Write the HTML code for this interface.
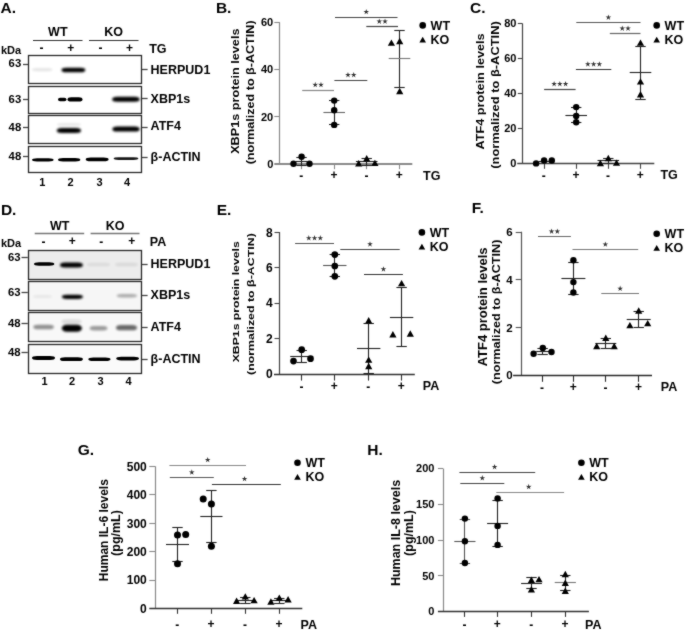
<!DOCTYPE html>
<html><head><meta charset="utf-8"><title>Figure</title>
<style>
html,body{margin:0;padding:0;background:#fff;}
body{width:685px;height:630px;overflow:hidden;}
svg{display:block;font-family:"Liberation Sans", sans-serif;filter:grayscale(1);}
</style></head>
<body>
<svg width="685" height="630" viewBox="0 0 685 630">
<defs><filter id="b1" x="-20%" y="-200%" width="140%" height="500%"><feGaussianBlur stdDeviation="0.1"/></filter><filter id="b2" x="-20%" y="-200%" width="140%" height="500%"><feGaussianBlur stdDeviation="0.2"/></filter><filter id="b3" x="-20%" y="-200%" width="140%" height="500%"><feGaussianBlur stdDeviation="0.3"/></filter><filter id="b4" x="-20%" y="-200%" width="140%" height="500%"><feGaussianBlur stdDeviation="0.4"/></filter><filter id="b5" x="-20%" y="-200%" width="140%" height="500%"><feGaussianBlur stdDeviation="0.5"/></filter><filter id="b6" x="-20%" y="-200%" width="140%" height="500%"><feGaussianBlur stdDeviation="0.6"/></filter><filter id="b7" x="-20%" y="-200%" width="140%" height="500%"><feGaussianBlur stdDeviation="0.7"/></filter><filter id="b8" x="-20%" y="-200%" width="140%" height="500%"><feGaussianBlur stdDeviation="0.8"/></filter><filter id="b9" x="-20%" y="-200%" width="140%" height="500%"><feGaussianBlur stdDeviation="0.9"/></filter><filter id="b10" x="-20%" y="-200%" width="140%" height="500%"><feGaussianBlur stdDeviation="1.0"/></filter><filter id="b11" x="-20%" y="-200%" width="140%" height="500%"><feGaussianBlur stdDeviation="1.1"/></filter><filter id="b12" x="-20%" y="-200%" width="140%" height="500%"><feGaussianBlur stdDeviation="1.2"/></filter><filter id="b13" x="-20%" y="-200%" width="140%" height="500%"><feGaussianBlur stdDeviation="1.3"/></filter><filter id="b14" x="-20%" y="-200%" width="140%" height="500%"><feGaussianBlur stdDeviation="1.4"/></filter><filter id="b15" x="-20%" y="-200%" width="140%" height="500%"><feGaussianBlur stdDeviation="1.5"/></filter><filter id="b16" x="-20%" y="-200%" width="140%" height="500%"><feGaussianBlur stdDeviation="1.6"/></filter><filter id="b17" x="-20%" y="-200%" width="140%" height="500%"><feGaussianBlur stdDeviation="1.7"/></filter><filter id="b18" x="-20%" y="-200%" width="140%" height="500%"><feGaussianBlur stdDeviation="1.8"/></filter><filter id="b19" x="-20%" y="-200%" width="140%" height="500%"><feGaussianBlur stdDeviation="1.9"/></filter><filter id="b20" x="-20%" y="-200%" width="140%" height="500%"><feGaussianBlur stdDeviation="2.0"/></filter><filter id="b21" x="-20%" y="-200%" width="140%" height="500%"><feGaussianBlur stdDeviation="2.1"/></filter><filter id="b22" x="-20%" y="-200%" width="140%" height="500%"><feGaussianBlur stdDeviation="2.2"/></filter><filter id="b23" x="-20%" y="-200%" width="140%" height="500%"><feGaussianBlur stdDeviation="2.3"/></filter><filter id="b24" x="-20%" y="-200%" width="140%" height="500%"><feGaussianBlur stdDeviation="2.4"/></filter><filter id="b25" x="-20%" y="-200%" width="140%" height="500%"><feGaussianBlur stdDeviation="2.5"/></filter><filter id="b26" x="-20%" y="-200%" width="140%" height="500%"><feGaussianBlur stdDeviation="2.6"/></filter><filter id="b27" x="-20%" y="-200%" width="140%" height="500%"><feGaussianBlur stdDeviation="2.7"/></filter><filter id="b28" x="-20%" y="-200%" width="140%" height="500%"><feGaussianBlur stdDeviation="2.8"/></filter><filter id="b29" x="-20%" y="-200%" width="140%" height="500%"><feGaussianBlur stdDeviation="2.9"/></filter><filter id="b30" x="-20%" y="-200%" width="140%" height="500%"><feGaussianBlur stdDeviation="3.0"/></filter><filter id="soft" x="0" y="0" width="685" height="630" filterUnits="userSpaceOnUse" color-interpolation-filters="sRGB"><feConvolveMatrix order="3" kernelMatrix="1 2 1 2 20 2 1 2 1" edgeMode="duplicate"/></filter></defs>
<rect x="0" y="0" width="685" height="630" fill="#fff"/>
<g filter="url(#soft)">
<text x="0.50" y="12.60" font-size="15.5" text-anchor="start" font-weight="bold" fill="#000" >A.</text>
<text x="57.80" y="36.20" font-size="12.5" text-anchor="middle" font-weight="bold" fill="#000" >WT</text>
<text x="113.50" y="36.20" font-size="12.5" text-anchor="middle" font-weight="bold" fill="#000" >KO</text>
<line x1="33.00" y1="40.50" x2="82.50" y2="40.50" stroke="#333" stroke-width="1.2" />
<line x1="89.00" y1="40.50" x2="138.50" y2="40.50" stroke="#333" stroke-width="1.2" />
<text x="1.00" y="53.60" font-size="11" text-anchor="start" font-weight="bold" fill="#000" >kDa</text>
<text x="41.60" y="52.30" font-size="12" text-anchor="middle" font-weight="bold" fill="#000" >-</text>
<text x="70.80" y="52.00" font-size="12" text-anchor="middle" font-weight="bold" fill="#000" >+</text>
<text x="100.60" y="52.30" font-size="12" text-anchor="middle" font-weight="bold" fill="#000" >-</text>
<text x="129.40" y="52.00" font-size="12" text-anchor="middle" font-weight="bold" fill="#000" >+</text>
<text x="149.20" y="53.30" font-size="12.5" text-anchor="start" font-weight="bold" fill="#000" >TG</text>
<rect x="28.50" y="55.50" width="113.00" height="28.00" fill="none" stroke="#2a2a2a" stroke-width="1.3" />
<line x1="23.00" y1="64.50" x2="28.00" y2="64.50" stroke="#444" stroke-width="1.3" />
<text x="21.20" y="66.90" font-size="11.3" text-anchor="end" font-weight="bold" fill="#000" >63</text>
<line x1="142.00" y1="69.50" x2="147.60" y2="69.50" stroke="#444" stroke-width="1.3" />
<text x="150.60" y="73.90" font-size="12.5" text-anchor="start" font-weight="bold" fill="#000" >HERPUD1</text>
<rect x="28.50" y="86.50" width="113.00" height="27.00" fill="none" stroke="#2a2a2a" stroke-width="1.3" />
<line x1="23.00" y1="99.50" x2="28.00" y2="99.50" stroke="#444" stroke-width="1.3" />
<text x="21.20" y="102.50" font-size="11.3" text-anchor="end" font-weight="bold" fill="#000" >63</text>
<line x1="142.00" y1="98.50" x2="147.60" y2="98.50" stroke="#444" stroke-width="1.3" />
<text x="150.60" y="102.70" font-size="12.5" text-anchor="start" font-weight="bold" fill="#000" >XBP1s</text>
<rect x="28.50" y="115.50" width="113.00" height="28.00" fill="none" stroke="#2a2a2a" stroke-width="1.3" />
<line x1="23.00" y1="127.50" x2="28.00" y2="127.50" stroke="#444" stroke-width="1.3" />
<text x="21.20" y="131.30" font-size="11.3" text-anchor="end" font-weight="bold" fill="#000" >48</text>
<line x1="142.00" y1="127.50" x2="147.60" y2="127.50" stroke="#444" stroke-width="1.3" />
<text x="150.60" y="129.90" font-size="12.5" text-anchor="start" font-weight="bold" fill="#000" >ATF4</text>
<rect x="28.50" y="146.50" width="113.00" height="26.00" fill="none" stroke="#2a2a2a" stroke-width="1.3" />
<line x1="23.00" y1="156.50" x2="28.00" y2="156.50" stroke="#444" stroke-width="1.3" />
<text x="21.20" y="160.30" font-size="11.3" text-anchor="end" font-weight="bold" fill="#000" >48</text>
<line x1="142.00" y1="157.50" x2="147.60" y2="157.50" stroke="#444" stroke-width="1.3" />
<text x="150.60" y="160.60" font-size="12.5" text-anchor="start" font-weight="bold" fill="#000" >β-ACTIN</text>
<text x="42.20" y="186.20" font-size="11" text-anchor="middle" font-weight="bold" fill="#000" >1</text>
<text x="70.50" y="186.20" font-size="11" text-anchor="middle" font-weight="bold" fill="#000" >2</text>
<text x="99.60" y="186.20" font-size="11" text-anchor="middle" font-weight="bold" fill="#000" >3</text>
<text x="127.00" y="186.20" font-size="11" text-anchor="middle" font-weight="bold" fill="#000" >4</text>
<rect x="32.00" y="68.00" width="20.50" height="3.20" rx="5.00" ry="1.60" fill="#000" opacity="0.1" filter="url(#b12)"/>
<rect x="61.50" y="67.70" width="23.80" height="4.60" rx="5.00" ry="2.30" fill="#000" opacity="1.0" filter="url(#b8)"/>
<rect x="58.00" y="97.80" width="8.50" height="3.40" rx="2.12" ry="1.70" fill="#000" opacity="1.0" filter="url(#b7)"/>
<rect x="67.50" y="97.25" width="15.00" height="4.30" rx="3.75" ry="2.15" fill="#000" opacity="1.0" filter="url(#b7)"/>
<rect x="112.20" y="96.80" width="27.40" height="5.00" rx="5.00" ry="2.50" fill="#000" opacity="1.0" filter="url(#b8)"/>
<rect x="57.00" y="123.25" width="24.00" height="2.50" rx="5.00" ry="1.25" fill="#000" opacity="0.1" filter="url(#b10)"/>
<rect x="56.80" y="128.10" width="24.20" height="5.00" rx="5.00" ry="2.50" fill="#000" opacity="1.0" filter="url(#b10)"/>
<rect x="112.40" y="126.40" width="27.20" height="5.20" rx="5.00" ry="2.60" fill="#000" opacity="1.0" filter="url(#b9)"/>
<rect x="32.00" y="158.20" width="21.60" height="3.20" rx="5.00" ry="1.60" fill="#000" opacity="1.0" filter="url(#b7)"/>
<rect x="58.00" y="158.10" width="22.30" height="3.40" rx="5.00" ry="1.70" fill="#000" opacity="1.0" filter="url(#b7)"/>
<rect x="85.70" y="157.60" width="22.90" height="3.60" rx="5.00" ry="1.80" fill="#000" opacity="1.0" filter="url(#b7)"/>
<rect x="113.60" y="157.30" width="24.80" height="2.60" rx="5.00" ry="1.30" fill="#000" opacity="0.9" filter="url(#b7)"/>
<text x="0.90" y="214.80" font-size="15.5" text-anchor="start" font-weight="bold" fill="#000" >D.</text>
<text x="59.60" y="229.50" font-size="12.5" text-anchor="middle" font-weight="bold" fill="#000" >WT</text>
<text x="115.20" y="229.50" font-size="12.5" text-anchor="middle" font-weight="bold" fill="#000" >KO</text>
<line x1="34.70" y1="233.50" x2="84.20" y2="233.50" stroke="#777" stroke-width="1.3" />
<line x1="90.60" y1="233.50" x2="139.50" y2="233.50" stroke="#777" stroke-width="1.3" />
<text x="1.00" y="247.20" font-size="11" text-anchor="start" font-weight="bold" fill="#000" >kDa</text>
<text x="43.40" y="245.90" font-size="12" text-anchor="middle" font-weight="bold" fill="#000" >-</text>
<text x="72.30" y="245.20" font-size="12" text-anchor="middle" font-weight="bold" fill="#000" >+</text>
<text x="101.20" y="245.90" font-size="12" text-anchor="middle" font-weight="bold" fill="#000" >-</text>
<text x="131.80" y="245.20" font-size="12" text-anchor="middle" font-weight="bold" fill="#000" >+</text>
<text x="149.80" y="246.20" font-size="12.5" text-anchor="start" font-weight="bold" fill="#000" >PA</text>
<rect x="28.50" y="250.50" width="113.00" height="29.00" fill="#ececec" stroke="#2a2a2a" stroke-width="1.3" />
<line x1="21.50" y1="257.50" x2="27.80" y2="257.50" stroke="#444" stroke-width="1.3" />
<text x="20.60" y="260.80" font-size="11.3" text-anchor="end" font-weight="bold" fill="#000" >63</text>
<line x1="142.00" y1="264.50" x2="147.60" y2="264.50" stroke="#444" stroke-width="1.3" />
<text x="150.60" y="267.70" font-size="12.5" text-anchor="start" font-weight="bold" fill="#000" >HERPUD1</text>
<rect x="28.50" y="281.50" width="113.00" height="29.00" fill="#f6f6f6" stroke="#2a2a2a" stroke-width="1.3" />
<line x1="21.50" y1="292.50" x2="27.80" y2="292.50" stroke="#444" stroke-width="1.3" />
<text x="20.60" y="296.10" font-size="11.3" text-anchor="end" font-weight="bold" fill="#000" >63</text>
<line x1="142.00" y1="295.50" x2="147.60" y2="295.50" stroke="#444" stroke-width="1.3" />
<text x="150.60" y="299.10" font-size="12.5" text-anchor="start" font-weight="bold" fill="#000" >XBP1s</text>
<rect x="28.50" y="312.50" width="113.00" height="29.00" fill="#f8f8f8" stroke="#2a2a2a" stroke-width="1.3" />
<line x1="21.50" y1="323.50" x2="27.80" y2="323.50" stroke="#444" stroke-width="1.3" />
<text x="20.60" y="326.90" font-size="11.3" text-anchor="end" font-weight="bold" fill="#000" >48</text>
<line x1="142.00" y1="327.50" x2="147.60" y2="327.50" stroke="#444" stroke-width="1.3" />
<text x="150.60" y="331.40" font-size="12.5" text-anchor="start" font-weight="bold" fill="#000" >ATF4</text>
<rect x="28.50" y="344.50" width="113.00" height="29.00" fill="#fafafa" stroke="#2a2a2a" stroke-width="1.3" />
<line x1="21.50" y1="352.50" x2="27.80" y2="352.50" stroke="#444" stroke-width="1.3" />
<text x="20.60" y="356.10" font-size="11.3" text-anchor="end" font-weight="bold" fill="#000" >48</text>
<line x1="142.00" y1="359.50" x2="147.60" y2="359.50" stroke="#444" stroke-width="1.3" />
<text x="150.60" y="362.90" font-size="12.5" text-anchor="start" font-weight="bold" fill="#000" >β-ACTIN</text>
<text x="44.50" y="385.20" font-size="11" text-anchor="middle" font-weight="bold" fill="#000" >1</text>
<text x="72.00" y="385.20" font-size="11" text-anchor="middle" font-weight="bold" fill="#000" >2</text>
<text x="100.60" y="385.20" font-size="11" text-anchor="middle" font-weight="bold" fill="#000" >3</text>
<text x="128.50" y="385.20" font-size="11" text-anchor="middle" font-weight="bold" fill="#000" >4</text>
<rect x="34.00" y="262.30" width="20.30" height="3.40" rx="5.00" ry="1.70" fill="#000" opacity="1.0" filter="url(#b7)"/>
<rect x="60.00" y="262.50" width="22.90" height="5.00" rx="5.00" ry="2.50" fill="#000" opacity="1.0" filter="url(#b8)"/>
<rect x="87.00" y="262.75" width="23.00" height="3.50" rx="5.00" ry="1.75" fill="#000" opacity="0.07" filter="url(#b12)"/>
<rect x="115.00" y="262.75" width="23.00" height="3.50" rx="5.00" ry="1.75" fill="#000" opacity="0.08" filter="url(#b12)"/>
<rect x="33.00" y="295.00" width="19.00" height="3.00" rx="4.75" ry="1.50" fill="#000" opacity="0.06" filter="url(#b12)"/>
<rect x="61.90" y="294.70" width="21.00" height="4.20" rx="5.00" ry="2.10" fill="#000" opacity="1.0" filter="url(#b8)"/>
<rect x="116.80" y="294.10" width="20.20" height="3.40" rx="5.00" ry="1.70" fill="#000" opacity="0.3" filter="url(#b10)"/>
<rect x="33.30" y="324.70" width="20.60" height="4.60" rx="5.00" ry="2.30" fill="#000" opacity="0.42" filter="url(#b11)"/>
<rect x="61.50" y="319.50" width="20.10" height="4.00" rx="5.00" ry="2.00" fill="#000" opacity="0.12" filter="url(#b13)"/>
<rect x="61.80" y="324.70" width="20.10" height="7.00" rx="5.00" ry="3.50" fill="#000" opacity="1.0" filter="url(#b10)"/>
<rect x="89.80" y="326.10" width="17.50" height="4.40" rx="4.38" ry="2.20" fill="#000" opacity="0.38" filter="url(#b11)"/>
<rect x="116.00" y="325.10" width="21.00" height="5.20" rx="5.00" ry="2.60" fill="#000" opacity="0.58" filter="url(#b11)"/>
<rect x="32.00" y="356.10" width="23.00" height="3.80" rx="5.00" ry="1.90" fill="#000" opacity="1.0" filter="url(#b7)"/>
<rect x="60.00" y="357.30" width="22.90" height="3.80" rx="5.00" ry="1.90" fill="#000" opacity="1.0" filter="url(#b7)"/>
<rect x="88.30" y="357.40" width="22.20" height="3.60" rx="5.00" ry="1.80" fill="#000" opacity="1.0" filter="url(#b7)"/>
<rect x="116.20" y="356.80" width="22.80" height="3.60" rx="5.00" ry="1.80" fill="#000" opacity="1.0" filter="url(#b7)"/>
<line x1="279.50" y1="22.30" x2="279.50" y2="163.70" stroke="#8a8a8a" stroke-width="1.2" />
<line x1="274.30" y1="164.00" x2="412.30" y2="164.00" stroke="#8a8a8a" stroke-width="1.8" />
<line x1="274.30" y1="116.50" x2="279.80" y2="116.50" stroke="#8a8a8a" stroke-width="1.1" />
<line x1="274.30" y1="69.50" x2="279.80" y2="69.50" stroke="#8a8a8a" stroke-width="1.1" />
<line x1="274.30" y1="22.50" x2="279.80" y2="22.50" stroke="#8a8a8a" stroke-width="1.1" />
<text x="273.25" y="167.55" font-size="11.0" text-anchor="end" font-weight="bold" fill="#000" >0</text>
<text x="273.25" y="120.55" font-size="11.0" text-anchor="end" font-weight="bold" fill="#000" >20</text>
<text x="273.25" y="73.45" font-size="11.0" text-anchor="end" font-weight="bold" fill="#000" >40</text>
<text x="273.25" y="26.45" font-size="11.0" text-anchor="end" font-weight="bold" fill="#000" >60</text>
<line x1="301.50" y1="163.70" x2="301.50" y2="169.20" stroke="#8a8a8a" stroke-width="1.1" />
<text x="301.20" y="180.00" font-size="12" text-anchor="middle" font-weight="bold" fill="#000" >-</text>
<line x1="334.50" y1="163.70" x2="334.50" y2="169.20" stroke="#8a8a8a" stroke-width="1.1" />
<text x="333.90" y="179.10" font-size="12" text-anchor="middle" font-weight="bold" fill="#000" >+</text>
<line x1="366.50" y1="163.70" x2="366.50" y2="169.20" stroke="#8a8a8a" stroke-width="1.1" />
<text x="366.40" y="180.00" font-size="12" text-anchor="middle" font-weight="bold" fill="#000" >-</text>
<line x1="399.50" y1="163.70" x2="399.50" y2="169.20" stroke="#8a8a8a" stroke-width="1.1" />
<text x="399.20" y="179.10" font-size="12" text-anchor="middle" font-weight="bold" fill="#000" >+</text>
<text x="423.00" y="179.70" font-size="12.5" text-anchor="start" font-weight="bold" fill="#000" >TG</text>
<text transform="translate(239.00,91.20) rotate(-90) scale(1.0,0.8)" x="0" y="0" font-size="12.67" text-anchor="middle" font-weight="bold" fill="#000">XBP1s protein levels</text>
<text transform="translate(253.70,92.40) rotate(-90) scale(1.0,0.8)" x="0" y="0" font-size="12.6" text-anchor="middle" font-weight="bold" fill="#000">(normalized to β-ACTIN)</text>
<circle cx="422.70" cy="25.40" r="3.3" fill="#000"/>
<text x="430.60" y="29.70" font-size="12.5" text-anchor="start" font-weight="bold" fill="#000" >WT</text>
<path d="M422.70,36.71 L426.00,42.51 L419.40,42.51Z" fill="#000"/>
<text x="430.60" y="44.00" font-size="12.5" text-anchor="start" font-weight="bold" fill="#000" >KO</text>
<line x1="335.00" y1="17.50" x2="397.50" y2="17.50" stroke="#444" stroke-width="1.2" />
<path d="M366.25,8.90 L366.91,10.99 L369.10,10.97 L367.32,12.25 L368.01,14.33 L366.25,13.02 L364.49,14.33 L365.18,12.25 L363.40,10.97 L365.59,10.99Z" fill="#333"/>
<line x1="366.30" y1="26.50" x2="398.00" y2="26.50" stroke="#444" stroke-width="1.2" />
<path d="M379.27,18.50 L379.93,20.59 L382.13,20.57 L380.34,21.85 L381.04,23.93 L379.27,22.62 L377.51,23.93 L378.21,21.85 L376.42,20.57 L378.62,20.59ZM385.02,18.50 L385.68,20.59 L387.88,20.57 L386.09,21.85 L386.79,23.93 L385.02,22.62 L383.26,23.93 L383.96,21.85 L382.17,20.57 L384.37,20.59Z" fill="#333"/>
<line x1="334.40" y1="80.50" x2="367.30" y2="80.50" stroke="#444" stroke-width="1.2" />
<path d="M347.98,72.00 L348.63,74.09 L350.83,74.07 L349.04,75.35 L349.74,77.43 L347.98,76.12 L346.21,77.43 L346.91,75.35 L345.12,74.07 L347.32,74.09ZM353.73,72.00 L354.38,74.09 L356.58,74.07 L354.79,75.35 L355.49,77.43 L353.73,76.12 L351.96,77.43 L352.66,75.35 L350.87,74.07 L353.07,74.09Z" fill="#333"/>
<line x1="302.20" y1="90.50" x2="334.00" y2="90.50" stroke="#888" stroke-width="1.2" />
<path d="M315.23,81.80 L315.88,83.89 L318.08,83.87 L316.29,85.15 L316.99,87.23 L315.23,85.92 L313.46,87.23 L314.16,85.15 L312.37,83.87 L314.57,83.89ZM320.98,81.80 L321.63,83.89 L323.83,83.87 L322.04,85.15 L322.74,87.23 L320.98,85.92 L319.21,87.23 L319.91,85.15 L318.12,83.87 L320.32,83.89Z" fill="#333"/>
<line x1="301.50" y1="157.30" x2="301.50" y2="165.00" stroke="#222" stroke-width="1.1" />
<line x1="296.30" y1="157.50" x2="306.70" y2="157.50" stroke="#222" stroke-width="1.1" />
<line x1="296.30" y1="165.50" x2="306.70" y2="165.50" stroke="#222" stroke-width="1.1" />
<line x1="295.90" y1="161.50" x2="307.10" y2="161.50" stroke="#222" stroke-width="1.1" />
<circle cx="293.50" cy="163.80" r="3.2" fill="#000"/>
<circle cx="301.60" cy="156.80" r="3.2" fill="#000"/>
<circle cx="309.50" cy="163.80" r="3.2" fill="#000"/>
<line x1="334.50" y1="100.30" x2="334.50" y2="124.40" stroke="#222" stroke-width="1.1" />
<line x1="329.00" y1="100.50" x2="339.40" y2="100.50" stroke="#222" stroke-width="1.1" />
<line x1="329.00" y1="124.50" x2="339.40" y2="124.50" stroke="#222" stroke-width="1.1" />
<line x1="323.40" y1="112.50" x2="345.00" y2="112.50" stroke="#666" stroke-width="1.1" />
<circle cx="334.20" cy="100.60" r="3.2" fill="#000"/>
<circle cx="334.20" cy="110.20" r="3.2" fill="#000"/>
<circle cx="334.20" cy="124.90" r="3.2" fill="#000"/>
<line x1="366.50" y1="158.10" x2="366.50" y2="165.00" stroke="#222" stroke-width="1.1" />
<line x1="361.50" y1="158.50" x2="371.90" y2="158.50" stroke="#222" stroke-width="1.1" />
<line x1="361.50" y1="165.50" x2="371.90" y2="165.50" stroke="#222" stroke-width="1.1" />
<line x1="355.90" y1="161.50" x2="377.50" y2="161.50" stroke="#222" stroke-width="1.1" />
<path d="M358.70,160.12 L362.30,166.45 L355.10,166.45Z" fill="#000"/>
<path d="M366.70,155.12 L370.30,161.45 L363.10,161.45Z" fill="#000"/>
<path d="M374.90,159.72 L378.50,166.05 L371.30,166.05Z" fill="#000"/>
<line x1="399.50" y1="30.20" x2="399.50" y2="87.30" stroke="#222" stroke-width="1.1" />
<line x1="394.30" y1="30.50" x2="404.70" y2="30.50" stroke="#222" stroke-width="1.1" />
<line x1="394.30" y1="87.50" x2="404.70" y2="87.50" stroke="#222" stroke-width="1.1" />
<line x1="388.70" y1="58.50" x2="410.30" y2="58.50" stroke="#777" stroke-width="1.1" />
<path d="M391.40,39.42 L395.00,45.75 L387.80,45.75Z" fill="#000"/>
<path d="M399.70,37.82 L403.30,44.15 L396.10,44.15Z" fill="#000"/>
<path d="M399.70,87.82 L403.30,94.15 L396.10,94.15Z" fill="#000"/>
<text x="215.90" y="12.50" font-size="15.5" text-anchor="start" font-weight="bold" fill="#000" >B.</text>
<line x1="522.50" y1="23.40" x2="522.50" y2="163.30" stroke="#444" stroke-width="1.2" />
<line x1="517.20" y1="163.50" x2="654.30" y2="163.50" stroke="#444" stroke-width="1.3" />
<line x1="517.80" y1="128.50" x2="522.40" y2="128.50" stroke="#444" stroke-width="1.1" />
<line x1="517.80" y1="93.50" x2="522.40" y2="93.50" stroke="#444" stroke-width="1.1" />
<line x1="517.80" y1="58.50" x2="522.40" y2="58.50" stroke="#444" stroke-width="1.1" />
<line x1="517.80" y1="23.50" x2="522.40" y2="23.50" stroke="#444" stroke-width="1.1" />
<text x="516.45" y="167.15" font-size="11.0" text-anchor="end" font-weight="bold" fill="#000" >0</text>
<text x="516.45" y="132.15" font-size="11.0" text-anchor="end" font-weight="bold" fill="#000" >20</text>
<text x="516.45" y="97.35" font-size="11.0" text-anchor="end" font-weight="bold" fill="#000" >40</text>
<text x="516.45" y="62.45" font-size="11.0" text-anchor="end" font-weight="bold" fill="#000" >60</text>
<text x="516.45" y="27.45" font-size="11.0" text-anchor="end" font-weight="bold" fill="#000" >80</text>
<line x1="544.50" y1="163.30" x2="544.50" y2="168.80" stroke="#444" stroke-width="1.1" />
<text x="543.80" y="179.60" font-size="12" text-anchor="middle" font-weight="bold" fill="#000" >-</text>
<line x1="576.50" y1="163.30" x2="576.50" y2="168.80" stroke="#444" stroke-width="1.1" />
<text x="575.90" y="178.70" font-size="12" text-anchor="middle" font-weight="bold" fill="#000" >+</text>
<line x1="608.50" y1="163.30" x2="608.50" y2="168.80" stroke="#444" stroke-width="1.1" />
<text x="608.00" y="179.60" font-size="12" text-anchor="middle" font-weight="bold" fill="#000" >-</text>
<line x1="640.50" y1="163.30" x2="640.50" y2="168.80" stroke="#444" stroke-width="1.1" />
<text x="640.20" y="178.70" font-size="12" text-anchor="middle" font-weight="bold" fill="#000" >+</text>
<text x="660.40" y="179.30" font-size="12.5" text-anchor="start" font-weight="bold" fill="#000" >TG</text>
<text transform="translate(484.00,91.40) rotate(-90) scale(1.0,0.88)" x="0" y="0" font-size="12.7" text-anchor="middle" font-weight="bold" fill="#000">ATF4 protein levels</text>
<text transform="translate(498.80,95.00) rotate(-90) scale(1.0,0.88)" x="0" y="0" font-size="12.9" text-anchor="middle" font-weight="bold" fill="#000">(normalized to β-ACTIN)</text>
<circle cx="656.70" cy="25.40" r="3.3" fill="#000"/>
<text x="664.60" y="29.70" font-size="12.5" text-anchor="start" font-weight="bold" fill="#000" >WT</text>
<path d="M656.70,36.71 L660.00,42.51 L653.40,42.51Z" fill="#000"/>
<text x="664.60" y="44.00" font-size="12.5" text-anchor="start" font-weight="bold" fill="#000" >KO</text>
<line x1="576.30" y1="22.50" x2="640.50" y2="22.50" stroke="#555" stroke-width="1.2" />
<path d="M608.40,14.50 L609.06,16.59 L611.25,16.57 L609.47,17.85 L610.16,19.93 L608.40,18.62 L606.64,19.93 L607.33,17.85 L605.55,16.57 L607.74,16.59Z" fill="#333"/>
<line x1="609.80" y1="33.50" x2="640.50" y2="33.50" stroke="#666" stroke-width="1.2" />
<path d="M622.27,25.50 L622.93,27.59 L625.13,27.57 L623.34,28.85 L624.04,30.93 L622.27,29.62 L620.51,30.93 L621.21,28.85 L619.42,27.57 L621.62,27.59ZM628.02,25.50 L628.68,27.59 L630.88,27.57 L629.09,28.85 L629.79,30.93 L628.02,29.62 L626.26,30.93 L626.96,28.85 L625.17,27.57 L627.37,27.59Z" fill="#333"/>
<line x1="575.90" y1="69.50" x2="611.30" y2="69.50" stroke="#333" stroke-width="1.2" />
<path d="M587.85,61.20 L588.51,63.29 L590.70,63.27 L588.92,64.55 L589.61,66.63 L587.85,65.32 L586.09,66.63 L586.78,64.55 L585.00,63.27 L587.19,63.29ZM593.60,61.20 L594.26,63.29 L596.45,63.27 L594.67,64.55 L595.36,66.63 L593.60,65.32 L591.84,66.63 L592.53,64.55 L590.75,63.27 L592.94,63.29ZM599.35,61.20 L600.01,63.29 L602.20,63.27 L600.42,64.55 L601.11,66.63 L599.35,65.32 L597.59,66.63 L598.28,64.55 L596.50,63.27 L598.69,63.29Z" fill="#333"/>
<line x1="544.10" y1="89.50" x2="575.60" y2="89.50" stroke="#444" stroke-width="1.2" />
<path d="M554.10,81.00 L554.76,83.09 L556.95,83.07 L555.17,84.35 L555.86,86.43 L554.10,85.12 L552.34,86.43 L553.03,84.35 L551.25,83.07 L553.44,83.09ZM559.85,81.00 L560.51,83.09 L562.70,83.07 L560.92,84.35 L561.61,86.43 L559.85,85.12 L558.09,86.43 L558.78,84.35 L557.00,83.07 L559.19,83.09ZM565.60,81.00 L566.26,83.09 L568.45,83.07 L566.67,84.35 L567.36,86.43 L565.60,85.12 L563.84,86.43 L564.53,84.35 L562.75,83.07 L564.94,83.09Z" fill="#333"/>
<line x1="538.50" y1="161.50" x2="549.70" y2="161.50" stroke="#222" stroke-width="1.1" />
<circle cx="536.10" cy="163.40" r="3.2" fill="#000"/>
<circle cx="544.10" cy="160.50" r="3.2" fill="#000"/>
<circle cx="551.80" cy="160.50" r="3.2" fill="#000"/>
<line x1="576.50" y1="107.50" x2="576.50" y2="122.50" stroke="#222" stroke-width="1.1" />
<line x1="571.00" y1="107.50" x2="581.40" y2="107.50" stroke="#222" stroke-width="1.1" />
<line x1="571.00" y1="122.50" x2="581.40" y2="122.50" stroke="#222" stroke-width="1.1" />
<line x1="565.40" y1="115.50" x2="587.00" y2="115.50" stroke="#222" stroke-width="1.1" />
<circle cx="576.20" cy="107.10" r="3.2" fill="#000"/>
<circle cx="576.20" cy="115.90" r="3.2" fill="#000"/>
<circle cx="576.20" cy="122.20" r="3.2" fill="#000"/>
<line x1="608.50" y1="158.30" x2="608.50" y2="163.50" stroke="#222" stroke-width="1.1" />
<line x1="603.10" y1="158.50" x2="613.50" y2="158.50" stroke="#222" stroke-width="1.1" />
<line x1="603.10" y1="163.50" x2="613.50" y2="163.50" stroke="#222" stroke-width="1.1" />
<line x1="597.50" y1="160.50" x2="619.10" y2="160.50" stroke="#222" stroke-width="1.1" />
<path d="M600.40,159.82 L604.00,166.15 L596.80,166.15Z" fill="#000"/>
<path d="M608.30,154.82 L611.90,161.15 L604.70,161.15Z" fill="#000"/>
<path d="M616.50,159.52 L620.10,165.85 L612.90,165.85Z" fill="#000"/>
<line x1="640.50" y1="46.00" x2="640.50" y2="99.00" stroke="#222" stroke-width="1.1" />
<line x1="635.30" y1="46.50" x2="645.70" y2="46.50" stroke="#222" stroke-width="1.1" />
<line x1="635.30" y1="99.50" x2="645.70" y2="99.50" stroke="#222" stroke-width="1.1" />
<line x1="629.70" y1="72.50" x2="651.30" y2="72.50" stroke="#222" stroke-width="1.1" />
<path d="M640.50,39.42 L644.10,45.75 L636.90,45.75Z" fill="#000"/>
<path d="M640.50,78.22 L644.10,84.55 L636.90,84.55Z" fill="#000"/>
<path d="M640.50,91.12 L644.10,97.45 L636.90,97.45Z" fill="#000"/>
<text x="470.10" y="12.60" font-size="15.5" text-anchor="start" font-weight="bold" fill="#000" >C.</text>
<line x1="279.50" y1="232.00" x2="279.50" y2="374.20" stroke="#444" stroke-width="1.2" />
<line x1="274.00" y1="374.50" x2="414.80" y2="374.50" stroke="#333" stroke-width="1.3" />
<line x1="274.50" y1="338.50" x2="279.60" y2="338.50" stroke="#444" stroke-width="1.1" />
<line x1="274.50" y1="303.50" x2="279.60" y2="303.50" stroke="#444" stroke-width="1.1" />
<line x1="274.50" y1="267.50" x2="279.60" y2="267.50" stroke="#444" stroke-width="1.1" />
<line x1="274.50" y1="232.50" x2="279.60" y2="232.50" stroke="#444" stroke-width="1.1" />
<text x="272.70" y="378.10" font-size="12.0" text-anchor="end" font-weight="bold" fill="#000" >0</text>
<text x="272.70" y="342.90" font-size="12.0" text-anchor="end" font-weight="bold" fill="#000" >2</text>
<text x="272.70" y="307.30" font-size="12.0" text-anchor="end" font-weight="bold" fill="#000" >4</text>
<text x="272.70" y="272.00" font-size="12.0" text-anchor="end" font-weight="bold" fill="#000" >6</text>
<text x="272.70" y="236.60" font-size="12.0" text-anchor="end" font-weight="bold" fill="#000" >8</text>
<line x1="301.50" y1="374.20" x2="301.50" y2="380.60" stroke="#333" stroke-width="1.1" />
<text x="301.40" y="390.50" font-size="12" text-anchor="middle" font-weight="bold" fill="#000" >-</text>
<line x1="334.50" y1="374.20" x2="334.50" y2="380.60" stroke="#333" stroke-width="1.1" />
<text x="334.20" y="389.60" font-size="12" text-anchor="middle" font-weight="bold" fill="#000" >+</text>
<line x1="368.50" y1="374.20" x2="368.50" y2="380.60" stroke="#333" stroke-width="1.1" />
<text x="368.20" y="390.50" font-size="12" text-anchor="middle" font-weight="bold" fill="#000" >-</text>
<line x1="401.50" y1="374.20" x2="401.50" y2="380.60" stroke="#333" stroke-width="1.1" />
<text x="401.30" y="389.60" font-size="12" text-anchor="middle" font-weight="bold" fill="#000" >+</text>
<text x="422.80" y="390.20" font-size="12.5" text-anchor="start" font-weight="bold" fill="#000" >PA</text>
<text transform="translate(239.00,301.80) rotate(-90) scale(1.0,0.8)" x="0" y="0" font-size="12.25" text-anchor="middle" font-weight="bold" fill="#000">XBP1s protein levels</text>
<text transform="translate(253.70,304.10) rotate(-90) scale(1.0,0.8)" x="0" y="0" font-size="12.4" text-anchor="middle" font-weight="bold" fill="#000">(normalized to β-ACTIN)</text>
<circle cx="421.90" cy="232.40" r="3.3" fill="#000"/>
<text x="429.80" y="236.70" font-size="12.5" text-anchor="start" font-weight="bold" fill="#000" >WT</text>
<path d="M421.90,243.71 L425.20,249.51 L418.60,249.51Z" fill="#000"/>
<text x="429.80" y="251.00" font-size="12.5" text-anchor="start" font-weight="bold" fill="#000" >KO</text>
<line x1="295.10" y1="243.50" x2="334.00" y2="243.50" stroke="#555" stroke-width="1.2" />
<path d="M308.80,235.10 L309.46,237.19 L311.65,237.17 L309.87,238.45 L310.56,240.53 L308.80,239.22 L307.04,240.53 L307.73,238.45 L305.95,237.17 L308.14,237.19ZM314.55,235.10 L315.21,237.19 L317.40,237.17 L315.62,238.45 L316.31,240.53 L314.55,239.22 L312.79,240.53 L313.48,238.45 L311.70,237.17 L313.89,237.19ZM320.30,235.10 L320.96,237.19 L323.15,237.17 L321.37,238.45 L322.06,240.53 L320.30,239.22 L318.54,240.53 L319.23,238.45 L317.45,237.17 L319.64,237.19Z" fill="#333"/>
<line x1="340.30" y1="249.50" x2="399.70" y2="249.50" stroke="#444" stroke-width="1.2" />
<path d="M370.00,241.20 L370.66,243.29 L372.85,243.27 L371.07,244.55 L371.76,246.63 L370.00,245.32 L368.24,246.63 L368.93,244.55 L367.15,243.27 L369.34,243.29Z" fill="#333"/>
<line x1="364.00" y1="274.50" x2="402.90" y2="274.50" stroke="#333" stroke-width="1.2" />
<path d="M383.45,266.20 L384.11,268.29 L386.30,268.27 L384.52,269.55 L385.21,271.63 L383.45,270.32 L381.69,271.63 L382.38,269.55 L380.60,268.27 L382.79,268.29Z" fill="#333"/>
<line x1="301.50" y1="350.80" x2="301.50" y2="362.20" stroke="#222" stroke-width="1.1" />
<line x1="296.50" y1="350.50" x2="306.90" y2="350.50" stroke="#222" stroke-width="1.1" />
<line x1="296.50" y1="362.50" x2="306.90" y2="362.50" stroke="#222" stroke-width="1.1" />
<line x1="290.20" y1="356.50" x2="313.20" y2="356.50" stroke="#222" stroke-width="1.1" />
<circle cx="293.50" cy="361.10" r="3.35" fill="#000"/>
<circle cx="301.70" cy="349.70" r="3.35" fill="#000"/>
<circle cx="310.50" cy="358.70" r="3.35" fill="#000"/>
<line x1="334.50" y1="254.60" x2="334.50" y2="276.30" stroke="#222" stroke-width="1.1" />
<line x1="329.60" y1="254.50" x2="340.00" y2="254.50" stroke="#222" stroke-width="1.1" />
<line x1="329.60" y1="276.50" x2="340.00" y2="276.50" stroke="#222" stroke-width="1.1" />
<line x1="323.10" y1="265.50" x2="346.50" y2="265.50" stroke="#555" stroke-width="1.1" />
<circle cx="334.80" cy="254.60" r="3.35" fill="#000"/>
<circle cx="334.80" cy="266.00" r="3.35" fill="#000"/>
<circle cx="334.80" cy="276.30" r="3.35" fill="#000"/>
<line x1="368.50" y1="323.50" x2="368.50" y2="373.30" stroke="#222" stroke-width="1.1" />
<line x1="363.50" y1="323.50" x2="373.90" y2="323.50" stroke="#222" stroke-width="1.1" />
<line x1="363.50" y1="373.50" x2="373.90" y2="373.50" stroke="#222" stroke-width="1.1" />
<line x1="357.00" y1="348.50" x2="380.40" y2="348.50" stroke="#222" stroke-width="1.1" />
<path d="M368.70,317.12 L372.30,323.45 L365.10,323.45Z" fill="#000"/>
<path d="M368.70,356.52 L372.30,362.85 L365.10,362.85Z" fill="#000"/>
<path d="M368.70,362.82 L372.30,369.15 L365.10,369.15Z" fill="#000"/>
<line x1="401.50" y1="287.80" x2="401.50" y2="346.30" stroke="#222" stroke-width="1.1" />
<line x1="396.40" y1="287.50" x2="406.80" y2="287.50" stroke="#222" stroke-width="1.1" />
<line x1="396.40" y1="346.50" x2="406.80" y2="346.50" stroke="#222" stroke-width="1.1" />
<line x1="389.90" y1="317.50" x2="413.30" y2="317.50" stroke="#222" stroke-width="1.1" />
<path d="M401.60,280.02 L405.20,286.35 L398.00,286.35Z" fill="#000"/>
<path d="M392.90,331.12 L396.50,337.45 L389.30,337.45Z" fill="#000"/>
<path d="M410.30,330.32 L413.90,336.65 L406.70,336.65Z" fill="#000"/>
<text x="216.70" y="214.60" font-size="15.5" text-anchor="start" font-weight="bold" fill="#000" >E.</text>
<line x1="521.50" y1="231.70" x2="521.50" y2="375.30" stroke="#555" stroke-width="1.2" />
<line x1="513.10" y1="375.50" x2="652.00" y2="375.50" stroke="#2a2a2a" stroke-width="1.3" />
<line x1="515.70" y1="327.50" x2="521.40" y2="327.50" stroke="#555" stroke-width="1.1" />
<line x1="515.70" y1="279.50" x2="521.40" y2="279.50" stroke="#555" stroke-width="1.1" />
<line x1="515.70" y1="232.50" x2="521.40" y2="232.50" stroke="#555" stroke-width="1.1" />
<text x="512.67" y="379.32" font-size="11.5" text-anchor="end" font-weight="bold" fill="#000" >0</text>
<text x="512.67" y="331.52" font-size="11.5" text-anchor="end" font-weight="bold" fill="#000" >2</text>
<text x="512.67" y="283.82" font-size="11.5" text-anchor="end" font-weight="bold" fill="#000" >4</text>
<text x="512.67" y="236.12" font-size="11.5" text-anchor="end" font-weight="bold" fill="#000" >6</text>
<line x1="542.50" y1="375.30" x2="542.50" y2="381.80" stroke="#2a2a2a" stroke-width="1.1" />
<text x="542.10" y="391.60" font-size="12" text-anchor="middle" font-weight="bold" fill="#000" >-</text>
<line x1="573.50" y1="375.30" x2="573.50" y2="381.80" stroke="#2a2a2a" stroke-width="1.1" />
<text x="573.20" y="390.70" font-size="12" text-anchor="middle" font-weight="bold" fill="#000" >+</text>
<line x1="605.50" y1="375.30" x2="605.50" y2="381.80" stroke="#2a2a2a" stroke-width="1.1" />
<text x="605.40" y="391.60" font-size="12" text-anchor="middle" font-weight="bold" fill="#000" >-</text>
<line x1="638.50" y1="375.30" x2="638.50" y2="381.80" stroke="#2a2a2a" stroke-width="1.1" />
<text x="638.40" y="390.70" font-size="12" text-anchor="middle" font-weight="bold" fill="#000" >+</text>
<text x="660.80" y="391.30" font-size="12.5" text-anchor="start" font-weight="bold" fill="#000" >PA</text>
<text transform="translate(486.80,306.90) rotate(-90) scale(1.0,0.92)" x="0" y="0" font-size="13.0" text-anchor="middle" font-weight="bold" fill="#000">ATF4 protein levels</text>
<text transform="translate(500.00,311.90) rotate(-90) scale(1.0,0.85)" x="0" y="0" font-size="12.66" text-anchor="middle" font-weight="bold" fill="#000">(normalized to β-ACTIN)</text>
<circle cx="656.70" cy="233.70" r="3.3" fill="#000"/>
<text x="664.60" y="238.00" font-size="12.5" text-anchor="start" font-weight="bold" fill="#000" >WT</text>
<path d="M656.70,245.01 L660.00,250.81 L653.40,250.81Z" fill="#000"/>
<text x="664.60" y="252.30" font-size="12.5" text-anchor="start" font-weight="bold" fill="#000" >KO</text>
<line x1="538.00" y1="236.50" x2="570.90" y2="236.50" stroke="#666" stroke-width="1.2" />
<path d="M551.58,228.50 L552.23,230.59 L554.43,230.57 L552.64,231.85 L553.34,233.93 L551.58,232.62 L549.81,233.93 L550.51,231.85 L548.72,230.57 L550.92,230.59ZM557.33,228.50 L557.98,230.59 L560.18,230.57 L558.39,231.85 L559.09,233.93 L557.33,232.62 L555.56,233.93 L556.26,231.85 L554.47,230.57 L556.67,230.59Z" fill="#333"/>
<line x1="572.50" y1="249.50" x2="638.20" y2="249.50" stroke="#777" stroke-width="1.2" />
<path d="M605.35,241.40 L606.01,243.49 L608.20,243.47 L606.42,244.75 L607.11,246.83 L605.35,245.52 L603.59,246.83 L604.28,244.75 L602.50,243.47 L604.69,243.49Z" fill="#333"/>
<line x1="601.30" y1="293.50" x2="639.00" y2="293.50" stroke="#777" stroke-width="1.2" />
<path d="M620.15,285.60 L620.81,287.69 L623.00,287.67 L621.22,288.95 L621.91,291.03 L620.15,289.72 L618.39,291.03 L619.08,288.95 L617.30,287.67 L619.49,287.69Z" fill="#333"/>
<line x1="542.50" y1="348.40" x2="542.50" y2="354.00" stroke="#222" stroke-width="1.1" />
<line x1="537.40" y1="348.50" x2="547.80" y2="348.50" stroke="#222" stroke-width="1.1" />
<line x1="537.40" y1="354.50" x2="547.80" y2="354.50" stroke="#222" stroke-width="1.1" />
<line x1="536.20" y1="351.50" x2="549.00" y2="351.50" stroke="#222" stroke-width="1.1" />
<circle cx="533.60" cy="353.70" r="3.2" fill="#000"/>
<circle cx="542.80" cy="347.90" r="3.2" fill="#000"/>
<circle cx="551.50" cy="352.00" r="3.2" fill="#000"/>
<line x1="573.50" y1="262.10" x2="573.50" y2="294.70" stroke="#222" stroke-width="1.1" />
<line x1="568.20" y1="262.50" x2="578.60" y2="262.50" stroke="#222" stroke-width="1.1" />
<line x1="568.20" y1="294.50" x2="578.60" y2="294.50" stroke="#222" stroke-width="1.1" />
<line x1="561.40" y1="278.50" x2="585.40" y2="278.50" stroke="#222" stroke-width="1.1" />
<circle cx="573.40" cy="260.20" r="3.2" fill="#000"/>
<circle cx="573.40" cy="282.10" r="3.2" fill="#000"/>
<circle cx="573.40" cy="292.50" r="3.2" fill="#000"/>
<line x1="605.50" y1="338.40" x2="605.50" y2="348.50" stroke="#222" stroke-width="1.1" />
<line x1="600.60" y1="338.50" x2="611.00" y2="338.50" stroke="#222" stroke-width="1.1" />
<line x1="600.60" y1="348.50" x2="611.00" y2="348.50" stroke="#222" stroke-width="1.1" />
<line x1="595.30" y1="343.50" x2="616.30" y2="343.50" stroke="#222" stroke-width="1.1" />
<path d="M596.70,342.82 L600.30,349.15 L593.10,349.15Z" fill="#000"/>
<path d="M605.80,334.62 L609.40,340.95 L602.20,340.95Z" fill="#000"/>
<path d="M614.20,342.82 L617.80,349.15 L610.60,349.15Z" fill="#000"/>
<line x1="638.50" y1="311.60" x2="638.50" y2="327.30" stroke="#222" stroke-width="1.1" />
<line x1="633.50" y1="311.50" x2="643.90" y2="311.50" stroke="#222" stroke-width="1.1" />
<line x1="633.50" y1="327.50" x2="643.90" y2="327.50" stroke="#222" stroke-width="1.1" />
<line x1="626.70" y1="319.50" x2="650.70" y2="319.50" stroke="#222" stroke-width="1.1" />
<path d="M638.70,307.32 L642.30,313.65 L635.10,313.65Z" fill="#000"/>
<path d="M629.90,321.92 L633.50,328.25 L626.30,328.25Z" fill="#000"/>
<path d="M647.70,320.02 L651.30,326.35 L644.10,326.35Z" fill="#000"/>
<text x="471.80" y="212.80" font-size="15.5" text-anchor="start" font-weight="bold" fill="#000" >F.</text>
<line x1="155.50" y1="466.20" x2="155.50" y2="608.30" stroke="#8a8a8a" stroke-width="1.2" />
<line x1="149.30" y1="608.50" x2="302.30" y2="608.50" stroke="#333" stroke-width="1.3" />
<line x1="149.30" y1="580.50" x2="155.00" y2="580.50" stroke="#8a8a8a" stroke-width="1.1" />
<line x1="149.30" y1="551.50" x2="155.00" y2="551.50" stroke="#8a8a8a" stroke-width="1.1" />
<line x1="149.30" y1="523.50" x2="155.00" y2="523.50" stroke="#8a8a8a" stroke-width="1.1" />
<line x1="149.30" y1="494.50" x2="155.00" y2="494.50" stroke="#8a8a8a" stroke-width="1.1" />
<line x1="149.30" y1="466.50" x2="155.00" y2="466.50" stroke="#8a8a8a" stroke-width="1.1" />
<text x="146.80" y="612.60" font-size="12.0" text-anchor="end" font-weight="bold" fill="#000" >0</text>
<text x="146.80" y="584.30" font-size="12.0" text-anchor="end" font-weight="bold" fill="#000" >100</text>
<text x="146.80" y="555.80" font-size="12.0" text-anchor="end" font-weight="bold" fill="#000" >200</text>
<text x="146.80" y="527.60" font-size="12.0" text-anchor="end" font-weight="bold" fill="#000" >300</text>
<text x="146.80" y="499.10" font-size="12.0" text-anchor="end" font-weight="bold" fill="#000" >400</text>
<text x="146.80" y="470.60" font-size="12.0" text-anchor="end" font-weight="bold" fill="#000" >500</text>
<line x1="177.50" y1="608.30" x2="177.50" y2="613.80" stroke="#333" stroke-width="1.1" />
<text x="177.20" y="629.00" font-size="12" text-anchor="middle" font-weight="bold" fill="#000" >-</text>
<line x1="211.50" y1="608.30" x2="211.50" y2="613.80" stroke="#333" stroke-width="1.1" />
<text x="211.10" y="628.10" font-size="12" text-anchor="middle" font-weight="bold" fill="#000" >+</text>
<line x1="245.50" y1="608.30" x2="245.50" y2="613.80" stroke="#333" stroke-width="1.1" />
<text x="245.00" y="629.00" font-size="12" text-anchor="middle" font-weight="bold" fill="#000" >-</text>
<line x1="279.50" y1="608.30" x2="279.50" y2="613.80" stroke="#333" stroke-width="1.1" />
<text x="279.00" y="628.10" font-size="12" text-anchor="middle" font-weight="bold" fill="#000" >+</text>
<text x="300.60" y="628.70" font-size="12.5" text-anchor="start" font-weight="bold" fill="#000" >PA</text>
<text transform="translate(108.00,530.20) rotate(-90) scale(1.0,1.0)" x="0" y="0" font-size="12.0" text-anchor="middle" font-weight="bold" fill="#000">Human IL-6 levels</text>
<text transform="translate(119.50,533.00) rotate(-90) scale(1.0,0.95)" x="0" y="0" font-size="12.5" text-anchor="middle" font-weight="bold" fill="#000">(pg/mL)</text>
<circle cx="297.50" cy="462.70" r="3.3" fill="#000"/>
<text x="305.40" y="467.00" font-size="12.5" text-anchor="start" font-weight="bold" fill="#000" >WT</text>
<path d="M297.50,474.01 L300.80,479.81 L294.20,479.81Z" fill="#000"/>
<text x="305.40" y="481.30" font-size="12.5" text-anchor="start" font-weight="bold" fill="#000" >KO</text>
<line x1="169.40" y1="465.50" x2="246.00" y2="465.50" stroke="#888" stroke-width="1.2" />
<path d="M207.70,456.90 L208.36,458.99 L210.55,458.97 L208.77,460.25 L209.46,462.33 L207.70,461.02 L205.94,462.33 L206.63,460.25 L204.85,458.97 L207.04,458.99Z" fill="#333"/>
<line x1="169.80" y1="477.50" x2="213.80" y2="477.50" stroke="#555" stroke-width="1.2" />
<path d="M191.80,469.30 L192.46,471.39 L194.65,471.37 L192.87,472.65 L193.56,474.73 L191.80,473.42 L190.04,474.73 L190.73,472.65 L188.95,471.37 L191.14,471.39Z" fill="#333"/>
<line x1="211.90" y1="484.50" x2="280.80" y2="484.50" stroke="#333" stroke-width="1.2" />
<path d="M244.55,475.90 L245.21,477.99 L247.40,477.97 L245.62,479.25 L246.31,481.33 L244.55,480.02 L242.79,481.33 L243.48,479.25 L241.70,477.97 L243.89,477.99Z" fill="#333"/>
<line x1="177.50" y1="527.80" x2="177.50" y2="561.30" stroke="#222" stroke-width="1.1" />
<line x1="172.30" y1="527.50" x2="182.70" y2="527.50" stroke="#222" stroke-width="1.1" />
<line x1="172.30" y1="561.50" x2="182.70" y2="561.50" stroke="#222" stroke-width="1.1" />
<line x1="166.00" y1="544.50" x2="189.00" y2="544.50" stroke="#222" stroke-width="1.1" />
<circle cx="177.50" cy="534.90" r="3.5" fill="#000"/>
<circle cx="185.70" cy="534.60" r="3.5" fill="#000"/>
<circle cx="177.50" cy="563.80" r="3.5" fill="#000"/>
<line x1="211.50" y1="490.50" x2="211.50" y2="542.20" stroke="#222" stroke-width="1.1" />
<line x1="206.20" y1="490.50" x2="216.60" y2="490.50" stroke="#222" stroke-width="1.1" />
<line x1="206.20" y1="542.50" x2="216.60" y2="542.50" stroke="#222" stroke-width="1.1" />
<line x1="200.30" y1="516.50" x2="222.50" y2="516.50" stroke="#222" stroke-width="1.1" />
<circle cx="203.20" cy="498.90" r="3.5" fill="#000"/>
<circle cx="211.40" cy="504.00" r="3.5" fill="#000"/>
<circle cx="211.40" cy="546.20" r="3.5" fill="#000"/>
<line x1="245.50" y1="597.00" x2="245.50" y2="603.00" stroke="#222" stroke-width="1.1" />
<line x1="240.10" y1="597.50" x2="250.50" y2="597.50" stroke="#222" stroke-width="1.1" />
<line x1="240.10" y1="603.50" x2="250.50" y2="603.50" stroke="#222" stroke-width="1.1" />
<line x1="236.30" y1="600.50" x2="254.30" y2="600.50" stroke="#222" stroke-width="1.1" />
<path d="M236.60,597.62 L240.20,603.95 L233.00,603.95Z" fill="#000"/>
<path d="M245.30,593.22 L248.90,599.55 L241.70,599.55Z" fill="#000"/>
<path d="M254.10,596.92 L257.70,603.25 L250.50,603.25Z" fill="#000"/>
<line x1="279.50" y1="598.00" x2="279.50" y2="603.00" stroke="#222" stroke-width="1.1" />
<line x1="274.10" y1="598.50" x2="284.50" y2="598.50" stroke="#222" stroke-width="1.1" />
<line x1="274.10" y1="603.50" x2="284.50" y2="603.50" stroke="#222" stroke-width="1.1" />
<line x1="270.30" y1="600.50" x2="288.30" y2="600.50" stroke="#222" stroke-width="1.1" />
<path d="M270.90,598.32 L274.50,604.65 L267.30,604.65Z" fill="#000"/>
<path d="M279.30,594.42 L282.90,600.75 L275.70,600.75Z" fill="#000"/>
<path d="M288.10,596.12 L291.70,602.45 L284.50,602.45Z" fill="#000"/>
<text x="77.80" y="455.40" font-size="15.5" text-anchor="start" font-weight="bold" fill="#000" >G.</text>
<line x1="443.50" y1="468.50" x2="443.50" y2="611.40" stroke="#8a8a8a" stroke-width="1.2" />
<line x1="437.90" y1="611.50" x2="588.90" y2="611.50" stroke="#333" stroke-width="1.3" />
<line x1="437.90" y1="575.50" x2="443.00" y2="575.50" stroke="#8a8a8a" stroke-width="1.1" />
<line x1="437.90" y1="540.50" x2="443.00" y2="540.50" stroke="#8a8a8a" stroke-width="1.1" />
<line x1="437.90" y1="504.50" x2="443.00" y2="504.50" stroke="#8a8a8a" stroke-width="1.1" />
<line x1="437.90" y1="468.50" x2="443.00" y2="468.50" stroke="#8a8a8a" stroke-width="1.1" />
<text x="434.45" y="615.35" font-size="11.0" text-anchor="end" font-weight="bold" fill="#000" >0</text>
<text x="434.45" y="579.65" font-size="11.0" text-anchor="end" font-weight="bold" fill="#000" >50</text>
<text x="434.45" y="544.25" font-size="11.0" text-anchor="end" font-weight="bold" fill="#000" >100</text>
<text x="434.45" y="508.35" font-size="11.0" text-anchor="end" font-weight="bold" fill="#000" >150</text>
<text x="434.45" y="472.45" font-size="11.0" text-anchor="end" font-weight="bold" fill="#000" >200</text>
<line x1="464.50" y1="611.40" x2="464.50" y2="616.90" stroke="#333" stroke-width="1.1" />
<text x="464.60" y="629.30" font-size="12" text-anchor="middle" font-weight="bold" fill="#000" >-</text>
<line x1="497.50" y1="611.40" x2="497.50" y2="616.90" stroke="#333" stroke-width="1.1" />
<text x="497.30" y="628.40" font-size="12" text-anchor="middle" font-weight="bold" fill="#000" >+</text>
<line x1="531.50" y1="611.40" x2="531.50" y2="616.90" stroke="#333" stroke-width="1.1" />
<text x="531.20" y="629.30" font-size="12" text-anchor="middle" font-weight="bold" fill="#000" >-</text>
<line x1="565.50" y1="611.40" x2="565.50" y2="616.90" stroke="#333" stroke-width="1.1" />
<text x="565.00" y="628.40" font-size="12" text-anchor="middle" font-weight="bold" fill="#000" >+</text>
<text x="585.00" y="629.00" font-size="12.5" text-anchor="start" font-weight="bold" fill="#000" >PA</text>
<text transform="translate(400.00,533.00) rotate(-90) scale(1.0,0.95)" x="0" y="0" font-size="12.5" text-anchor="middle" font-weight="bold" fill="#000">Human IL-8 levels</text>
<text transform="translate(413.00,533.00) rotate(-90) scale(1.0,0.95)" x="0" y="0" font-size="12.5" text-anchor="middle" font-weight="bold" fill="#000">(pg/mL)</text>
<circle cx="581.40" cy="462.70" r="3.3" fill="#000"/>
<text x="589.30" y="467.00" font-size="12.5" text-anchor="start" font-weight="bold" fill="#000" >WT</text>
<path d="M581.40,474.01 L584.70,479.81 L578.10,479.81Z" fill="#000"/>
<text x="589.30" y="481.30" font-size="12.5" text-anchor="start" font-weight="bold" fill="#000" >KO</text>
<line x1="459.40" y1="472.50" x2="535.20" y2="472.50" stroke="#444" stroke-width="1.2" />
<path d="M494.60,464.00 L495.26,466.09 L497.45,466.07 L495.67,467.35 L496.36,469.43 L494.60,468.12 L492.84,469.43 L493.53,467.35 L491.75,466.07 L493.94,466.09Z" fill="#333"/>
<line x1="460.30" y1="483.50" x2="504.30" y2="483.50" stroke="#444" stroke-width="1.2" />
<path d="M482.30,475.10 L482.96,477.19 L485.15,477.17 L483.37,478.45 L484.06,480.53 L482.30,479.22 L480.54,480.53 L481.23,478.45 L479.45,477.17 L481.64,477.19Z" fill="#333"/>
<line x1="496.30" y1="492.50" x2="564.10" y2="492.50" stroke="#888" stroke-width="1.2" />
<path d="M528.70,483.80 L529.36,485.89 L531.55,485.87 L529.77,487.15 L530.46,489.23 L528.70,487.92 L526.94,489.23 L527.63,487.15 L525.85,485.87 L528.04,485.89Z" fill="#333"/>
<line x1="464.50" y1="519.00" x2="464.50" y2="563.30" stroke="#555" stroke-width="1.1" />
<line x1="459.70" y1="519.50" x2="470.10" y2="519.50" stroke="#555" stroke-width="1.1" />
<line x1="459.70" y1="563.50" x2="470.10" y2="563.50" stroke="#555" stroke-width="1.1" />
<line x1="454.30" y1="541.50" x2="475.50" y2="541.50" stroke="#555" stroke-width="1.1" />
<circle cx="464.90" cy="518.60" r="3.2" fill="#000"/>
<circle cx="464.90" cy="541.30" r="3.2" fill="#000"/>
<circle cx="464.90" cy="563.00" r="3.2" fill="#000"/>
<line x1="497.50" y1="500.00" x2="497.50" y2="546.30" stroke="#222" stroke-width="1.1" />
<line x1="492.40" y1="500.50" x2="502.80" y2="500.50" stroke="#222" stroke-width="1.1" />
<line x1="492.40" y1="546.50" x2="502.80" y2="546.50" stroke="#222" stroke-width="1.1" />
<line x1="487.10" y1="523.50" x2="508.10" y2="523.50" stroke="#222" stroke-width="1.1" />
<circle cx="497.60" cy="498.40" r="3.2" fill="#000"/>
<circle cx="497.60" cy="525.90" r="3.2" fill="#000"/>
<circle cx="497.60" cy="544.90" r="3.2" fill="#000"/>
<line x1="531.50" y1="577.50" x2="531.50" y2="588.60" stroke="#222" stroke-width="1.1" />
<line x1="526.30" y1="577.50" x2="536.70" y2="577.50" stroke="#222" stroke-width="1.1" />
<line x1="526.30" y1="588.50" x2="536.70" y2="588.50" stroke="#222" stroke-width="1.1" />
<line x1="521.10" y1="583.50" x2="541.90" y2="583.50" stroke="#222" stroke-width="1.1" />
<path d="M531.40,576.62 L535.00,582.95 L527.80,582.95Z" fill="#000"/>
<path d="M539.00,575.92 L542.60,582.25 L535.40,582.25Z" fill="#000"/>
<path d="M531.40,586.12 L535.00,592.45 L527.80,592.45Z" fill="#000"/>
<line x1="565.50" y1="575.00" x2="565.50" y2="590.40" stroke="#222" stroke-width="1.1" />
<line x1="560.10" y1="575.50" x2="570.50" y2="575.50" stroke="#222" stroke-width="1.1" />
<line x1="560.10" y1="590.50" x2="570.50" y2="590.50" stroke="#222" stroke-width="1.1" />
<line x1="554.70" y1="582.50" x2="575.90" y2="582.50" stroke="#777" stroke-width="1.1" />
<path d="M565.30,570.82 L568.90,577.15 L561.70,577.15Z" fill="#000"/>
<path d="M565.30,579.62 L568.90,585.95 L561.70,585.95Z" fill="#000"/>
<path d="M565.30,587.62 L568.90,593.95 L561.70,593.95Z" fill="#000"/>
<text x="367.20" y="455.20" font-size="15.5" text-anchor="start" font-weight="bold" fill="#000" >H.</text>
</g>
</svg>
</body></html>
